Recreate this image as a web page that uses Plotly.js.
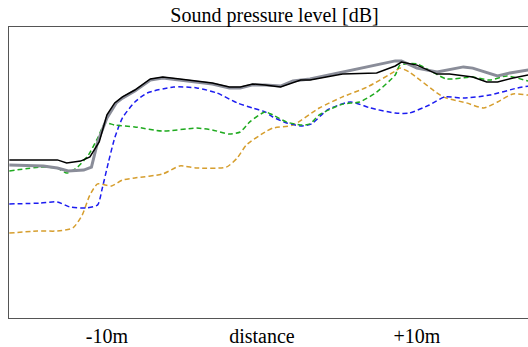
<!DOCTYPE html>
<html>
<head>
<meta charset="utf-8">
<script src="https://cdn.plot.ly/plotly-3.0.1.min.js"></script>
<style>
html,body{margin:0;padding:0;overflow:hidden;background:#fff;width:528px;height:347px;}
#chart{width:540px;height:347px;}
</style>
</head>
<body>
<div id="chart"></div>
<script>
// distance [m] and level [dB] per series
const blackX = [-16.3,-13.2,-12.6,-11.7,-11.1,-10.5,-10.0,-9.5,-9.0,-8.5,-8.2,-7.2,-6.4,-5.3,-4.2,-3.2,-2.1,-1.4,-0.6,0.2,1.2,2.5,3.1,4.2,5.2,7.4,8.6,9.0,10.0,11.3,12.1,13.6,14.5,15.2,16.2,17.2,17.9];
const blackY = [52.7,52.7,51.7,52.3,53.7,58.7,67.7,71.7,73.7,75.0,76.0,79.7,80.3,79.7,79.0,78.3,77.0,77.0,78.0,77.7,77.0,79.3,79.3,80.3,81.3,81.7,84.0,85.3,84.3,81.3,81.3,80.3,78.7,78.7,80.0,81.0,81.3];

const greyX = [-16.3,-14.1,-13.2,-12.5,-11.5,-11.0,-10.6,-10.0,-9.4,-9.0,-8.2,-7.2,-6.4,-5.3,-4.2,-3.2,-2.1,-1.4,-0.6,0.2,1.2,2.0,3.1,5.2,6.8,8.6,9.0,10.0,11.3,13.0,13.6,15.2,16.0,17.2,17.9];
const greyY = [51.0,50.7,50.0,49.0,49.3,50.3,58.7,66.7,71.7,73.3,75.7,79.3,80.0,79.3,78.7,78.0,76.7,76.7,77.7,77.7,77.3,79.0,79.7,82.0,83.7,85.7,85.7,83.3,82.0,83.7,83.3,80.7,81.7,82.7,83.0];

const greenX = [-16.3,-14.3,-13.2,-12.6,-11.9,-11.2,-10.6,-10.1,-9.5,-8.2,-6.4,-4.2,-3.2,-2.1,-1.4,-0.8,0.2,0.7,1.6,2.6,3.1,3.7,5.2,6.3,7.4,8.6,8.9,10.0,11.0,11.9,13.6,14.7,15.8,17.2,17.9];
const greenY = [49.0,50.3,50.0,48.3,50.3,54.3,60.0,65.0,64.3,63.7,62.3,63.3,62.7,61.3,62.0,65.3,68.7,67.7,65.3,64.3,64.7,67.7,71.3,72.0,75.3,81.0,84.3,84.7,82.0,79.7,80.3,79.3,80.7,79.0,78.7];

const blueX = [-16.3,-14.3,-13.2,-12.4,-11.3,-10.6,-10.3,-9.9,-9.5,-9.0,-8.2,-7.4,-5.7,-4.2,-2.9,-1.6,-0.6,0.2,0.7,1.6,2.5,3.2,4.2,5.7,7.0,8.6,9.5,10.8,11.8,13.0,14.7,16.5,17.2,17.9];
const blueY = [38.0,38.3,38.7,37.0,36.7,37.7,43.3,52.0,60.0,66.7,72.0,75.0,77.0,76.7,75.0,71.7,70.0,68.7,67.0,65.0,64.0,64.7,69.3,72.0,70.0,68.3,68.3,71.0,73.7,73.3,74.3,76.7,77.3,77.7];

const orangeX = [-16.3,-14.5,-13.2,-12.2,-11.6,-11.1,-10.6,-9.7,-9.0,-8.2,-6.4,-5.3,-4.2,-2.3,-1.6,-1.0,0.2,0.7,2.0,3.7,5.2,6.8,8.6,8.9,9.5,11.7,13.2,14.3,15.2,16.2,17.2,17.9];
const orangeY = [28.3,29.0,29.0,30.0,34.3,41.0,44.7,44.0,46.0,46.7,48.0,50.7,50.0,50.3,53.3,57.7,62.0,63.3,64.3,70.0,73.7,77.0,82.3,83.3,82.0,73.7,71.7,70.0,72.0,74.7,74.3,74.3];

const tickVals = [-10, 0, 10];
const tickText = ["-10m", "distance", "+10m"];
const titleText = "Sound pressure level [dB]";

const dash = "5px,3px";
const traces = [
  {x: orangeX, y: orangeY, mode: "lines", line: {color: "#d69e2e", width: 1.5, dash: dash, shape: "spline", smoothing: 0.6}},
  {x: blueX, y: blueY, mode: "lines", line: {color: "#1c1cf0", width: 1.5, dash: dash, shape: "spline", smoothing: 0.6}},
  {x: greenX, y: greenY, mode: "lines", line: {color: "#1faa1f", width: 1.5, dash: dash, shape: "spline", smoothing: 0.6}},
  {x: greyX, y: greyY, mode: "lines", line: {color: "#8a8d99", width: 3}},
  {x: blackX, y: blackY, mode: "lines", line: {color: "#000000", width: 1.5}}
];

const layout = {
  width: 540, height: 347,
  margin: {l: 9, r: 0, t: 27, b: 29, pad: 0},
  paper_bgcolor: "#fff", plot_bgcolor: "#fff",
  showlegend: false,
  font: {family: "Liberation Serif, Times New Roman, serif", size: 20, color: "#000"},
  title: {text: titleText, font: {family: "Liberation Serif, serif", size: 20, color: "#000"},
          xref: "paper", x: 0.5, xanchor: "center", yref: "container", y: 0.957, yanchor: "middle"},
  xaxis: {range: [-16.32, 17.94], showgrid: false, zeroline: false, showline: true, mirror: true,
          linecolor: "#555", linewidth: 1, ticks: "", tickvals: tickVals, ticktext: tickText,
          tickfont: {family: "Liberation Serif, serif", size: 20, color: "#000"}, fixedrange: true},
  yaxis: {range: [0, 97], showgrid: false, zeroline: false, showline: true, mirror: true,
          linecolor: "#555", linewidth: 1, ticks: "", showticklabels: false, fixedrange: true}
};

Plotly.newPlot("chart", traces, layout, {displayModeBar: false, staticPlot: true});
</script>
</body>
</html>
